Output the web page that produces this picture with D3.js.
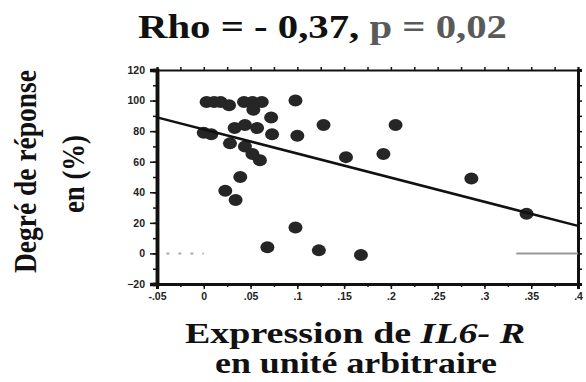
<!DOCTYPE html>
<html>
<head>
<meta charset="utf-8">
<script src="https://cdn.jsdelivr.net/npm/d3@7"></script>
<style>
  body { margin: 0; background: #fff; }
  svg { display: block; }
  .tick text { font-family: "Liberation Sans", Arial, sans-serif; font-weight: bold; font-size: 10.5px; fill: #222; }
  .serif { font-family: "Liberation Serif", "Times New Roman", serif; font-weight: bold; }
</style>
</head>
<body>
<script>
// IL6-R expression (x) vs response degree in % (y)
const expr = [0.003, 0.011, 0.018, 0.027, 0.043, 0.052, 0.062, 0.053, 0.072, 0.098,
  0.0, 0.008, 0.033, 0.044, 0.057, 0.073, 0.100, 0.028, 0.044, 0.052, 0.060,
  0.039, 0.023, 0.034, 0.098, 0.068, 0.123, 0.168, 0.128, 0.205, 0.152, 0.192,
  0.286, 0.345];
const response = [99, 99, 99, 97, 99, 99, 99, 94, 89, 100,
  79, 78, 82, 84, 82, 78, 77, 72, 70, 65, 61,
  50, 41, 35, 17, 4, 2, -1, 84, 84, 63, 65,
  49, 26];

// regression line end points
const fitX = [-0.05, 0.4];
const fitY = [89, 18];

// grey reference segments at 0 %
const refLeft = [[-0.04, 0], [0.0, 0]];
const refRight = [[0.334, 0], [0.4, 0]];

const xTicks = [-0.05, 0, 0.05, 0.1, 0.15, 0.2, 0.25, 0.3, 0.35, 0.4];
const xTickLabels = ['-.05', '0', '.05', '.1', '.15', '.2', '.25', '.3', '.35', '.4'];
const yTicks = [-20, 0, 20, 40, 60, 80, 100, 120];

const W = 586, H = 382;
const margin = { top: 70, right: 8, bottom: 98, left: 157 };
const width = W - margin.left - margin.right;
const height = H - margin.top - margin.bottom;

const svg = d3.select('body').append('svg')
  .attr('width', W)
  .attr('height', H);

const g = svg.append('g')
  .attr('transform', `translate(${margin.left},${margin.top})`);

const x = d3.scaleLinear().domain([-0.05, 0.4]).range([0, width]);
const y = d3.scaleLinear().domain([-20, 120]).range([height, 0]);

// minor ticks
const xMinor = d3.range(-0.05, 0.401, 0.025);
const yMinor = d3.range(-20, 121, 10);

function axisStyle(sel, sw) {
  sel.select('.domain').attr('stroke', '#111').attr('stroke-width', sw);
  sel.selectAll('.tick line').attr('stroke', '#111').attr('stroke-width', 1.5);
}

// minor tick axes first (no labels)
g.append('g').attr('transform', `translate(0,${height})`)
  .call(d3.axisBottom(x).tickValues(xMinor).tickSize(3).tickFormat(''))
  .call(s => axisStyle(s, 3));
g.append('g').attr('transform', `translate(0,0)`)
  .call(d3.axisTop(x).tickValues(xMinor).tickSize(3).tickFormat(''))
  .call(s => axisStyle(s, 2));
g.append('g')
  .call(d3.axisLeft(y).tickValues(yMinor).tickSize(4).tickFormat(''))
  .call(s => axisStyle(s, 3.5));
g.append('g').attr('transform', `translate(${width},0)`)
  .call(d3.axisRight(y).tickValues(yMinor).tickSize(4).tickFormat(''))
  .call(s => axisStyle(s, 3));

// major ticks with labels
g.append('g').attr('transform', `translate(0,${height})`)
  .call(d3.axisBottom(x).tickValues(xTicks).tickSize(5).tickPadding(4)
    .tickFormat((d, i) => xTickLabels[i]))
  .call(s => axisStyle(s, 3));
g.append('g')
  .call(d3.axisLeft(y).tickValues(yTicks).tickSize(7).tickPadding(5))
  .call(s => axisStyle(s, 3.5));

// reference segments
const line = d3.line().x(d => x(d[0])).y(d => y(d[1]));
g.append('path').datum(refRight).attr('d', line)
  .attr('stroke', '#999').attr('stroke-width', 2).attr('fill', 'none');
g.append('path').datum(refLeft).attr('d', line)
  .attr('stroke', '#aaa').attr('stroke-width', 2).attr('stroke-dasharray', '3,9').attr('fill', 'none');

// points
g.selectAll('.point')
  .data(expr.map((d, i) => [d, response[i]]))
  .enter().append('ellipse')
  .attr('class', 'point')
  .attr('cx', d => x(d[0]))
  .attr('cy', d => y(d[1]))
  .attr('rx', 7)
  .attr('ry', 6)
  .attr('fill', '#262626');

// regression line
g.append('path')
  .datum(fitX.map((d, i) => [d, fitY[i]]))
  .attr('d', line)
  .attr('stroke', '#111').attr('stroke-width', 2.5).attr('fill', 'none');

// title
const title = svg.append('text').attr('class', 'serif')
  .attr('x', 138).attr('y', 38)
  .attr('font-size', 33)
  .attr('textLength', 369).attr('lengthAdjust', 'spacingAndGlyphs');
title.append('tspan').attr('fill', '#111').text('Rho = - 0,37, ');
title.append('tspan').attr('fill', '#5a5a5a').text('p = 0,02');

// y label
svg.append('text').attr('class', 'serif')
  .attr('transform', 'translate(36,273) rotate(-90)')
  .attr('font-size', 32).attr('fill', '#111')
  .attr('textLength', 203).attr('lengthAdjust', 'spacingAndGlyphs')
  .text('Degré de réponse');
svg.append('text').attr('class', 'serif')
  .attr('transform', 'translate(84,213) rotate(-90)')
  .attr('font-size', 32).attr('fill', '#111')
  .attr('textLength', 78).attr('lengthAdjust', 'spacingAndGlyphs')
  .text('en (%)');

// x label
const xl = svg.append('text').attr('class', 'serif')
  .attr('x', 185).attr('y', 343)
  .attr('font-size', 30).attr('fill', '#111')
  .attr('textLength', 340).attr('lengthAdjust', 'spacingAndGlyphs');
xl.append('tspan').text('Expression de ');
xl.append('tspan').attr('font-style', 'italic').text('IL6- R');
svg.append('text').attr('class', 'serif')
  .attr('x', 215).attr('y', 373)
  .attr('font-size', 30).attr('fill', '#111')
  .attr('textLength', 282).attr('lengthAdjust', 'spacingAndGlyphs')
  .text('en unité arbitraire');
</script>
</body>
</html>
